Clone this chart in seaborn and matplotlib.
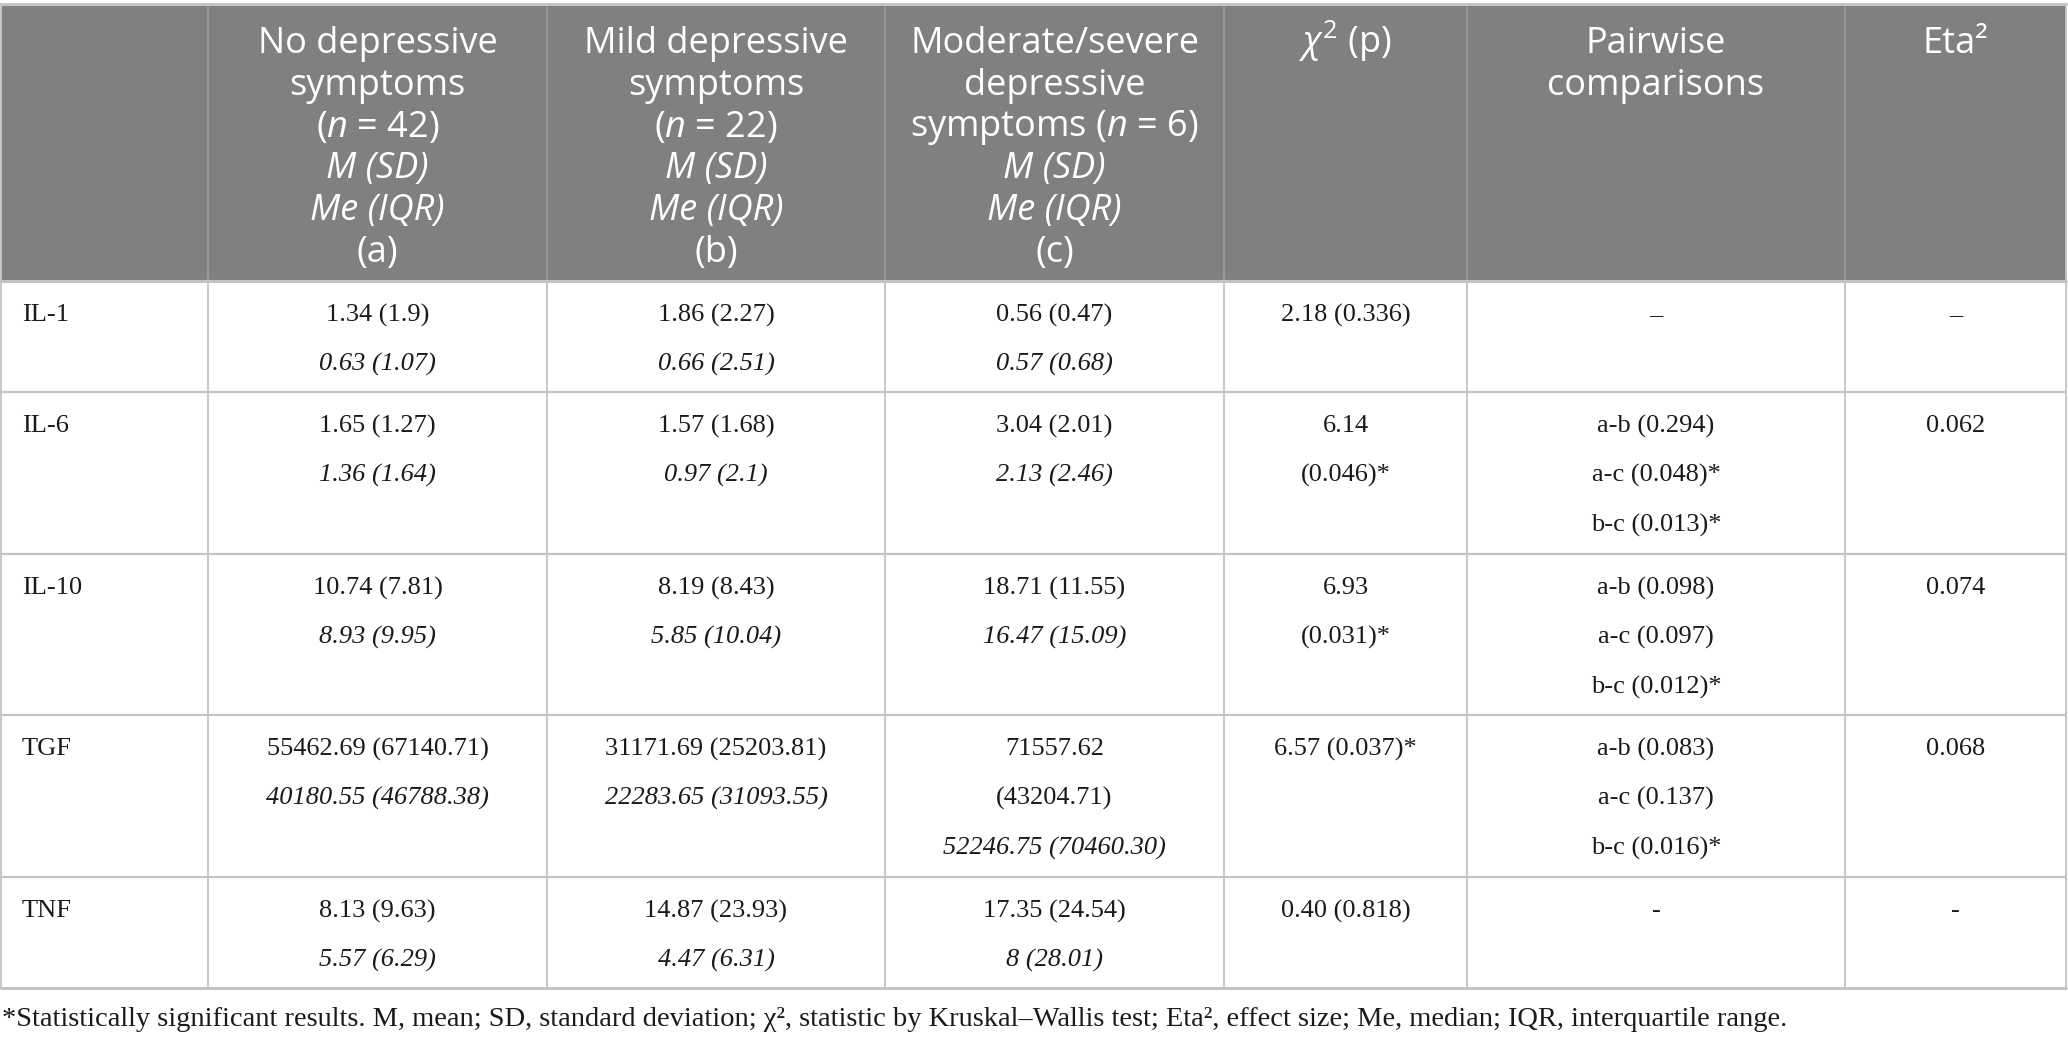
import matplotlib
matplotlib.use("Agg")
import matplotlib.pyplot as plt
from matplotlib.patches import Rectangle
import seaborn as sns

# table content
markers = ["IL-1", "IL-6", "IL-10", "TGF", "TNF"]
header_a = ["No depressive", "symptoms", "($n$ = 42)", "M (SD)", "Me (IQR)", "(a)"]
header_b = ["Mild depressive", "symptoms", "($n$ = 22)", "M (SD)", "Me (IQR)", "(b)"]
header_c = ["Moderate/severe", "depressive", "symptoms ($n$ = 6)", "M (SD)", "Me (IQR)", "(c)"]
header_chi = [r"$\chi^2$ (p)"]
header_pair = ["Pairwise", "comparisons"]
header_eta = ["Eta²"]
mean_a = ["1.34 (1.9)", "1.65 (1.27)", "10.74 (7.81)", "55462.69 (67140.71)", "8.13 (9.63)"]
median_a = ["0.63 (1.07)", "1.36 (1.64)", "8.93 (9.95)", "40180.55 (46788.38)", "5.57 (6.29)"]
mean_b = ["1.86 (2.27)", "1.57 (1.68)", "8.19 (8.43)", "31171.69 (25203.81)", "14.87 (23.93)"]
median_b = ["0.66 (2.51)", "0.97 (2.1)", "5.85 (10.04)", "22283.65 (31093.55)", "4.47 (6.31)"]
mean_c = ["0.56 (0.47)", "3.04 (2.01)", "18.71 (11.55)", "71557.62\n(43204.71)", "17.35 (24.54)"]
median_c = ["0.57 (0.68)", "2.13 (2.46)", "16.47 (15.09)", "52246.75 (70460.30)", "8 (28.01)"]
chi_p = ["2.18 (0.336)", "6.14\n(0.046)*", "6.93\n(0.031)*", "6.57 (0.037)*", "0.40 (0.818)"]
pairwise = ["–", "a-b (0.294)\na-c (0.048)*\nb-c (0.013)*", "a-b (0.098)\na-c (0.097)\nb-c (0.012)*",
            "a-b (0.083)\na-c (0.137)\nb-c (0.016)*", "-"]
eta_sq = ["–", "0.062", "0.074", "0.068", "-"]
footnote = ("*Statistically significant results. M, mean; SD, standard deviation; χ², statistic by "
            "Kruskal–Wallis test; Eta², effect size; Me, median; IQR, interquartile range.")

sns.set_theme(style="white")
plt.rcParams["font.family"] = ["Liberation Serif", "DejaVu Serif"]
plt.rcParams["mathtext.fontset"] = "custom"
plt.rcParams["mathtext.rm"] = "Open Sans"
plt.rcParams["mathtext.it"] = "Open Sans:italic"

W, H = 2068, 1043
fig = plt.figure(figsize=(W / 100, H / 100), dpi=100)
ax = fig.add_axes([0, 0, 1, 1])
ax.set_xlim(0, W)
ax.set_ylim(H, 0)
ax.axis("off")

col_edges = [1, 208, 547, 885, 1224, 1467, 1845, 2066]
row_edges = [4, 281, 392, 554, 715, 877, 988]
head_fill = "#7f807f"
line_col = "#c4c4c4"
txt_col = "#1a1a1a"

# header band
ax.add_patch(Rectangle((col_edges[0], row_edges[0]), col_edges[-1] - col_edges[0],
                       row_edges[1] - row_edges[0], color=head_fill, lw=0, zorder=0))

headers = [header_a, header_b, header_c, header_chi, header_pair, header_eta]
head_fs = 26
for j, lines in enumerate(headers):
    cx = (col_edges[j + 1] + col_edges[j + 2]) / 2
    for k, s in enumerate(lines):
        style = "italic" if s in ("M (SD)", "Me (IQR)") else "normal"
        y = 44 + k * 41.8
        if s.startswith(r"$\chi"):
            y -= 3  # superscript pushes the box down
        ax.text(cx, y, s, ha="center", va="center", color="white",
                fontsize=head_fs, family="Open Sans", style=style, zorder=3)

# grid lines
for x in col_edges:
    c = "#9a9a9a" if 1 < x < 2066 else line_col
    ax.plot([x, x], [row_edges[0], row_edges[1]], color=c, lw=1.3, zorder=2)
    ax.plot([x, x], [row_edges[1], row_edges[-1]], color=line_col, lw=1.3, zorder=2)
for i, y in enumerate(row_edges):
    lw = 2.2 if i in (0, 1, len(row_edges) - 1) else 1.6
    ax.plot([col_edges[0], col_edges[-1]], [y, y], color=line_col, lw=lw, zorder=2)

# body
body_fs = 19
step = 49.5
for i, name in enumerate(markers):
    top = row_edges[i + 1]
    y0 = top + 34
    ax.text(22, y0, name, ha="left", va="center", fontsize=body_fs, color=txt_col)
    cells = [(mean_a[i], median_a[i]), (mean_b[i], median_b[i]), (mean_c[i], median_c[i])]
    for j, (m, md) in enumerate(cells):
        cx = (col_edges[j + 1] + col_edges[j + 2]) / 2
        parts = [(s, "normal") for s in m.split("\n")] + [(md, "italic")]
        for k, (s, st) in enumerate(parts):
            ax.text(cx, y0 + k * step, s, ha="center", va="center", fontsize=body_fs,
                    style=st, color=txt_col)
    for j, col in enumerate([chi_p, pairwise, eta_sq]):
        cx = (col_edges[j + 4] + col_edges[j + 5]) / 2
        for k, s in enumerate(col[i].split("\n")):
            ax.text(cx, y0 + k * step, s, ha="center", va="center", fontsize=body_fs,
                    color=txt_col)

ax.text(2, 1020, footnote, ha="left", va="center", fontsize=20.5, color=txt_col)

fig.savefig("out.png", dpi=100)
